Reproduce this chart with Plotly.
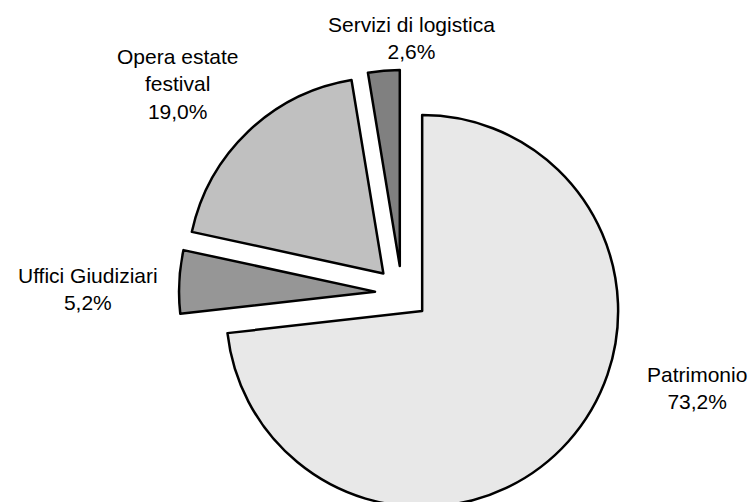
import plotly.graph_objects as go

# Data
labels = ["Patrimonio", "Uffici Giudiziari", "Opera estate festival", "Servizi di logistica"]
display_labels = ["Patrimonio", "Uffici Giudiziari", "Opera estate<br>festival", "Servizi di logistica"]
values = [73.2, 5.2, 19.0, 2.6]
colors = ["#E8E8E8", "#969696", "#C0C0C0", "#808080"]

# Layout geometry (pixels)
W, H = 754, 530
ML, MR, MT, MB = 50, 0, 70, 14
PW, PH = W - ML - MR, H - MT - MB

# label text positions in pixels (centre of text block)
label_pos = [(697, 388), (88, 289), (177, 84), (411, 38)]

fig = go.Figure(go.Pie(
    labels=labels,
    values=values,
    sort=False,
    direction="clockwise",
    rotation=0,
    pull=[0.138] * len(values),
    marker=dict(colors=colors, line=dict(color="black", width=2.5)),
    textinfo="none",
    hoverinfo="label+percent",
    showlegend=False,
))

annotations = []
for txt, v, (px, py) in zip(display_labels, values, label_pos):
    annotations.append(dict(
        x=(px - ML) / PW, y=1 - (py - MT) / PH,
        xref="paper", yref="paper",
        text=f"{txt}<br>{v:.1f}".replace(".", ",") + "%",
        showarrow=False, xanchor="center", yanchor="middle",
        font=dict(family="Liberation Sans, Arial, sans-serif", size=21, color="black"),
        align="center",
    ))

fig.update_layout(
    width=W, height=H,
    margin=dict(l=ML, r=MR, t=MT, b=MB, pad=0),
    paper_bgcolor="white", plot_bgcolor="white",
    annotations=annotations,
    font=dict(family="Liberation Sans, Arial, sans-serif"),
)

fig.write_html(
    "out.html",
    config={"displayModeBar": False},
    post_script="document.body.style.margin='0';document.body.style.overflow='hidden';document.documentElement.style.overflow='hidden';",
)
